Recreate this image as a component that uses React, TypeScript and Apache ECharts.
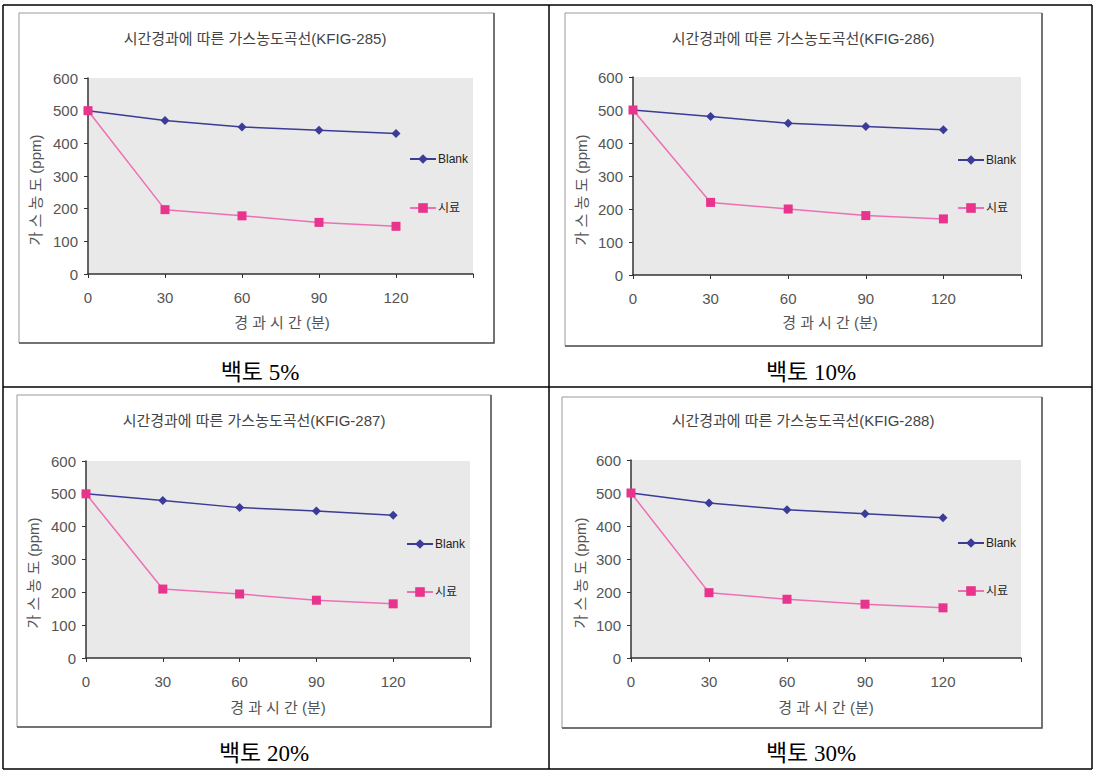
import React, { useEffect, useRef } from "react";
import * as echarts from "echarts";

// ---- data ----
const times = [0, 30, 60, 90, 120];
const seriesNames = ["Blank", "시료"];
const chartTitles = [
  "시간경과에 따른 가스농도곡선(KFIG-285)",
  "시간경과에 따른 가스농도곡선(KFIG-286)",
  "시간경과에 따른 가스농도곡선(KFIG-287)",
  "시간경과에 따른 가스농도곡선(KFIG-288)",
];
const captions = ["백토 5%", "백토 10%", "백토 20%", "백토 30%"];
const xAxisName = "경 과 시 간 (분)";
const yAxisName = "가 스 농 도 (ppm)";

const blank5 = [500, 470, 450, 440, 430];
const sample5 = [500, 197, 178, 158, 146];
const blank10 = [500, 480, 460, 450, 440];
const sample10 = [500, 220, 200, 180, 170];
const blank20 = [500, 480, 458, 448, 435];
const sample20 = [500, 210, 195, 176, 165];
const blank30 = [500, 470, 449, 437, 425];
const sample30 = [500, 198, 178, 163, 152];

const blankSets = [blank5, blank10, blank20, blank30];
const sampleSets = [sample5, sample10, sample20, sample30];

// ---- layout (pixel positions of each panel) ----
const panels = [
  { frame: [19, 13, 494, 343], grid: [88, 78, 385, 196], title: [255, 38], legend: [409, 160, 209], xName: [282, 322], yName: [35, 190], caption: [260, 372] },
  { frame: [565, 13, 1042, 346], grid: [633, 77, 388, 198], title: [803, 38], legend: [957, 161, 209], xName: [830, 322], yName: [581, 190], caption: [811, 372] },
  { frame: [17, 395, 491, 727], grid: [86, 461, 384, 197], title: [254, 420], legend: [406, 545, 593], xName: [278, 707], yName: [33, 573], caption: [264, 753] },
  { frame: [562, 397, 1042, 728], grid: [631, 460, 390, 198], title: [803, 420], legend: [957, 544, 592], xName: [826, 707], yName: [580, 573], caption: [811, 753] },
];

const SANS = '"Liberation Sans", "Noto Sans CJK KR", sans-serif';
const SERIF = '"Liberation Serif", "DejaVu Serif", "Noto Sans CJK KR", serif';
const BLUE = "#3b3b98";
const PINK = "#e8348c";
const PINK_LINE = "#ef6fb4";

export default function App() {
  const ref = useRef<HTMLDivElement>(null);

  useEffect(() => {
    if (!ref.current) return;
    const chart = echarts.init(ref.current, null, { renderer: "svg" });

    const grids: any[] = [];
    const xAxes: any[] = [];
    const yAxes: any[] = [];
    const series: any[] = [];
    const legends: any[] = [];
    const graphics: any[] = [];

    // table borders
    const tableLines = [
      [3, 5, 1092, 5],
      [3, 387, 1092, 387],
      [3, 769, 1092, 769],
      [3, 5, 3, 769],
      [549, 5, 549, 769],
      [1092, 5, 1092, 769],
    ];
    tableLines.forEach(([x1, y1, x2, y2]) => {
      graphics.push({
        type: "line",
        shape: { x1, y1, x2, y2 },
        style: { stroke: "#000", lineWidth: 1.5 },
        z: 0,
      });
    });

    panels.forEach((p, i) => {
      const [fx1, fy1, fx2, fy2] = p.frame;
      graphics.push({
        type: "rect",
        shape: { x: fx1, y: fy1, width: fx2 - fx1, height: fy2 - fy1 },
        style: { fill: "#fff", stroke: "#9a9a9a", lineWidth: 1 },
        z: -1,
      });
      graphics.push({
        type: "polyline",
        shape: { points: [[fx2, fy1], [fx2, fy2], [fx1, fy2]] },
        style: { stroke: "#555", lineWidth: 1.5, fill: null },
        z: -1,
      });
      graphics.push({
        type: "text",
        x: p.title[0],
        y: p.title[1],
        style: {
          text: chartTitles[i],
          align: "center",
          verticalAlign: "middle",
          fontSize: 15,
          fontFamily: SANS,
          fill: "#444",
        },
      });
      graphics.push({
        type: "text",
        x: p.xName[0],
        y: p.xName[1],
        style: {
          text: xAxisName,
          align: "center",
          verticalAlign: "middle",
          fontSize: 15,
          fontFamily: SANS,
          fill: "#555",
        },
      });
      graphics.push({
        type: "text",
        x: p.yName[0],
        y: p.yName[1],
        rotation: Math.PI / 2,
        style: {
          text: yAxisName,
          align: "center",
          verticalAlign: "middle",
          fontSize: 15,
          fontFamily: SANS,
          fill: "#555",
        },
      });
      graphics.push({
        type: "text",
        x: p.caption[0],
        y: p.caption[1],
        style: {
          text: captions[i],
          align: "center",
          verticalAlign: "middle",
          fontSize: 23,
          fontFamily: SERIF,
          fill: "#000",
        },
      });

      const [gl, gt, gw, gh] = p.grid;
      grids.push({
        left: gl,
        top: gt,
        width: gw,
        height: gh,
        show: true,
        backgroundColor: "#e9e9e9",
        borderWidth: 0,
      });
      xAxes.push({
        type: "value",
        gridIndex: i,
        min: 0,
        max: 150,
        interval: 30,
        splitLine: { show: false },
        axisLine: { show: true, onZero: false, lineStyle: { color: "#333", width: 1.5 } },
        axisTick: { show: true, length: 4, lineStyle: { color: "#333" } },
        axisLabel: {
          margin: 16,
          fontSize: 15,
          fontFamily: SANS,
          color: "#555",
          formatter: (v: number) => (v <= 120 ? String(v) : ""),
        },
      });
      yAxes.push({
        type: "value",
        gridIndex: i,
        min: 0,
        max: 600,
        interval: 100,
        splitLine: { show: false },
        axisLine: { show: true, onZero: false, lineStyle: { color: "#333", width: 1.5 } },
        axisTick: { show: true, length: 4, lineStyle: { color: "#333" } },
        axisLabel: {
          margin: 10,
          fontSize: 15,
          fontFamily: SANS,
          color: "#555",
        },
      });
      series.push({
        name: seriesNames[0],
        type: "line",
        xAxisIndex: i,
        yAxisIndex: i,
        data: times.map((t, k) => [t, blankSets[i][k]]),
        symbol: "diamond",
        symbolSize: 9,
        lineStyle: { color: BLUE, width: 1.5 },
        itemStyle: { color: BLUE },
        z: 3,
      });
      series.push({
        name: seriesNames[1],
        type: "line",
        xAxisIndex: i,
        yAxisIndex: i,
        data: times.map((t, k) => [t, sampleSets[i][k]]),
        symbol: "rect",
        symbolSize: 9,
        lineStyle: { color: PINK_LINE, width: 1.5 },
        itemStyle: { color: PINK },
        z: 4,
      });
      seriesNames.forEach((nm, j) => {
        legends.push({
          data: [nm],
          left: p.legend[0],
          top: p.legend[1 + j] - 7,
          padding: 0,
          itemWidth: 26,
          itemHeight: 12,
          itemGap: 2,
          selectedMode: false,
          textStyle: { fontSize: 12, fontFamily: SANS, color: "#222", padding: [0, 0, 0, -3] },
        });
      });
    });

    chart.setOption({
      animation: false,
      backgroundColor: "#fff",
      grid: grids,
      xAxis: xAxes,
      yAxis: yAxes,
      series,
      legend: legends,
      graphic: { elements: graphics },
    });

    return () => chart.dispose();
  }, []);

  return (
    <div
      ref={ref}
      style={{ position: "fixed", left: 0, top: 0, width: 1093, height: 772 }}
    />
  );
}
